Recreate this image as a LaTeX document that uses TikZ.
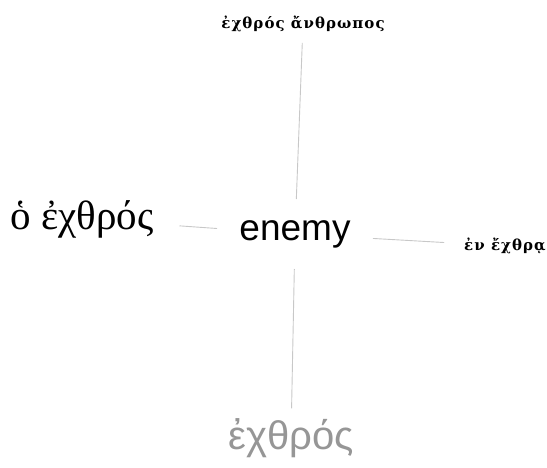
\documentclass[tikz,border=0pt]{standalone}
\usepackage{fontspec}
\newfontfamily\serifgr{Liberation Serif}
\newfontfamily\sansgr{Liberation Sans}
\newfontfamily\boldgr[LetterSpace=7]{DejaVu Serif}
\definecolor{linkC}{RGB}{200, 200, 200}
\definecolor{fadeC}{RGB}{150, 150, 150}
\usetikzlibrary{positioning}

\begin{document}
\begin{tikzpicture}[
    x=1pt, y=-1pt,
    word/.style={inner sep=0pt, outer sep=0pt},
    small/.style={word, font=\boldgr\bfseries\fontsize{15}{17}\selectfont},
    link/.style={draw=linkC, line width=0.9pt}
  ]
    \useasboundingbox (0,0) rectangle (547,468);

    % Centre word
    \node[word, minimum width=156pt, minimum height=70pt,
          font=\sansgr\fontsize{37}{40}\selectfont] (enemy) at (295,234) {enemy};

    % Related words
    \node[small, outer sep=11pt] (phrase) at (303,24) {ἐχθρός ἄνθρωπος};
    \node[word, outer sep=26pt, font=\serifgr\fontsize{41}{44}\selectfont] (article)
      at (82,219) {ὁ ἐχθρός};
    \node[small, outer sep=20pt] (dative) at (505,246) {ἐν ἔχθρᾳ};
    \node[word, outer sep=10pt, text=fadeC, font=\sansgr\fontsize{40}{44}\selectfont]
      (bare) at (291,438) {ἐχθρός};

    % Links
    \draw[link] (enemy) -- (phrase);
    \draw[link] (enemy) -- (article);
    \draw[link] (enemy) -- (dative);
    \draw[link] (enemy) -- (bare);
  \end{tikzpicture}
\end{document}
